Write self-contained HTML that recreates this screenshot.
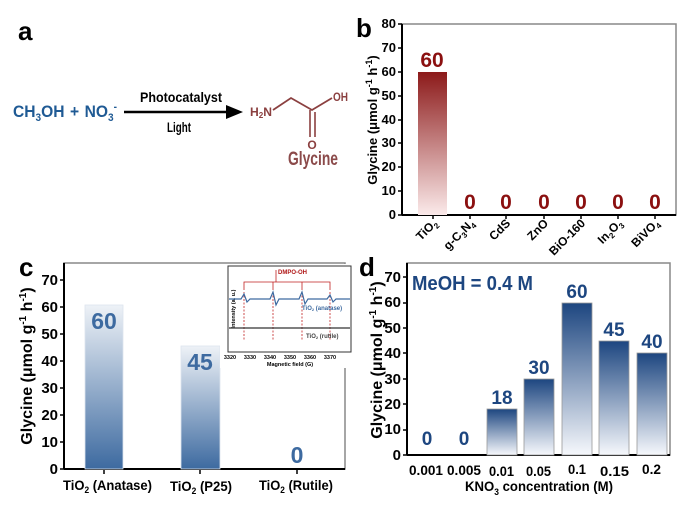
<!DOCTYPE html>
<html><head><meta charset="utf-8"><style>
body{margin:0;background:#fff}
svg{display:block;font-family:"Liberation Sans Narrow","Liberation Sans",sans-serif;font-weight:bold}
</style></head><body>
<svg width="682" height="507" viewBox="0 0 682 507" xmlns="http://www.w3.org/2000/svg">
<defs>
<linearGradient id="gr" x1="0" y1="0" x2="0" y2="1"><stop offset="0" stop-color="#8c1a1a"/><stop offset="1" stop-color="#fbeaea"/></linearGradient>
<linearGradient id="gc" x1="0" y1="0" x2="0" y2="1"><stop offset="0" stop-color="#eef2f7"/><stop offset="1" stop-color="#3d6aa0"/></linearGradient>
<linearGradient id="gd" x1="0" y1="0" x2="0" y2="1"><stop offset="0" stop-color="#1d4680"/><stop offset="1" stop-color="#f6f8fc"/></linearGradient>
</defs>

<!-- Panel a -->
<text x="18" y="40" font-size="26" font-family="Liberation Sans">a</text>
<text x="13" y="117" font-size="17" fill="#1f5a94" textLength="104" lengthAdjust="spacingAndGlyphs">CH<tspan font-size="11" dy="4">3</tspan><tspan dy="-4">OH</tspan><tspan dx="6">+</tspan><tspan dx="6">NO</tspan><tspan font-size="11" dy="4">3</tspan><tspan font-size="11" dy="-11">-</tspan></text>
<line x1="124" y1="112" x2="228" y2="112" stroke="#000" stroke-width="2.5"/>
<polygon points="226,105 243,112 226,119" fill="#000"/>
<text x="140" y="102" font-size="14" textLength="82" lengthAdjust="spacingAndGlyphs">Photocatalyst</text>
<text x="167" y="132" font-size="14" textLength="24" lengthAdjust="spacingAndGlyphs">Light</text>
<g fill="#8b4040" font-size="12">
<text x="250" y="116" textLength="22" lengthAdjust="spacingAndGlyphs">H<tspan font-size="8" dy="2">2</tspan><tspan dy="-2">N</tspan></text>
<text x="333" y="101" textLength="15" lengthAdjust="spacingAndGlyphs">OH</text>
<text x="312" y="149" text-anchor="middle">O</text>
</g>
<polyline points="273,110 291,98 312,110 332,98" fill="none" stroke="#8b4040" stroke-width="1.8"/>
<line x1="310" y1="110" x2="310" y2="137" stroke="#8b4040" stroke-width="1.6"/>
<line x1="315" y1="112" x2="315" y2="137" stroke="#8b4040" stroke-width="1.6"/>
<text x="288" y="165" font-size="19" fill="#8b4a4a" textLength="50" lengthAdjust="spacingAndGlyphs">Glycine</text>

<!-- Panel b -->
<text x="356" y="37" font-size="26" font-family="Liberation Sans">b</text>
<rect x="402" y="24" width="274" height="191" fill="none" stroke="#888" stroke-width="1.5"/>
<line x1="402" y1="24" x2="402" y2="215" stroke="#000" stroke-width="2"/>
<line x1="402" y1="215" x2="676" y2="215" stroke="#000" stroke-width="2"/>
<g font-size="13" text-anchor="end">
<text x="396" y="219">0</text><text x="396" y="195">10</text><text x="396" y="171">20</text><text x="396" y="147">30</text><text x="396" y="124">40</text><text x="396" y="100">50</text><text x="396" y="76">60</text><text x="396" y="52">70</text><text x="396" y="28">80</text>
</g>
<g stroke="#000" stroke-width="1.5">
<line x1="398" y1="215" x2="402" y2="215"/><line x1="398" y1="191" x2="402" y2="191"/><line x1="398" y1="167" x2="402" y2="167"/><line x1="398" y1="143" x2="402" y2="143"/><line x1="398" y1="120" x2="402" y2="120"/><line x1="398" y1="96" x2="402" y2="96"/><line x1="398" y1="72" x2="402" y2="72"/><line x1="398" y1="48" x2="402" y2="48"/><line x1="398" y1="24" x2="402" y2="24"/>
<line x1="433" y1="215" x2="433" y2="219"/><line x1="470" y1="215" x2="470" y2="219"/><line x1="506" y1="215" x2="506" y2="219"/><line x1="544" y1="215" x2="544" y2="219"/><line x1="581" y1="215" x2="581" y2="219"/><line x1="618" y1="215" x2="618" y2="219"/><line x1="655" y1="215" x2="655" y2="219"/>
</g>
<rect x="418" y="72" width="29" height="143" fill="url(#gr)"/>
<text x="432" y="67" font-size="21" fill="#8b1010" text-anchor="middle">60</text>
<g font-size="21" fill="#8b1010" text-anchor="middle">
<text x="470" y="209">0</text><text x="506" y="209">0</text><text x="544" y="209">0</text><text x="581" y="209">0</text><text x="618" y="209">0</text><text x="655" y="209">0</text>
</g>
<g font-size="12" text-anchor="end">
<text transform="translate(438,224) rotate(-45)">TiO<tspan font-size="8" dy="3">2</tspan></text>
<text transform="translate(475,224) rotate(-45)">g-C<tspan font-size="8" dy="3">3</tspan><tspan dy="-3">N</tspan><tspan font-size="8" dy="3">4</tspan></text>
<text transform="translate(511,224) rotate(-45)">CdS</text>
<text transform="translate(549,224) rotate(-45)">ZnO</text>
<text transform="translate(586,224) rotate(-45)">BiO-160</text>
<text transform="translate(623,224) rotate(-45)">In<tspan font-size="8" dy="3">2</tspan><tspan dy="-3">O</tspan><tspan font-size="8" dy="3">3</tspan></text>
<text transform="translate(660,224) rotate(-45)">BiVO<tspan font-size="8" dy="3">4</tspan></text>
</g>
<text transform="translate(377,120) rotate(-90)" font-size="13" text-anchor="middle">Glycine (μmol g<tspan font-size="9" dy="-5">-1</tspan><tspan dy="5"> h</tspan><tspan font-size="9" dy="-5">-1</tspan><tspan dy="5">)</tspan></text>

<!-- Panel c -->
<text x="19" y="276" font-size="26" font-family="Liberation Sans">c</text>
<rect x="64" y="263" width="281" height="206" fill="none" stroke="#888" stroke-width="1.5"/>
<line x1="64" y1="263" x2="64" y2="469" stroke="#000" stroke-width="2"/>
<line x1="64" y1="469" x2="345" y2="469" stroke="#000" stroke-width="2"/>
<g font-size="15" text-anchor="end">
<text x="58" y="474">0</text><text x="58" y="447">10</text><text x="58" y="420">20</text><text x="58" y="393">30</text><text x="58" y="366">40</text><text x="58" y="339">50</text><text x="58" y="312">60</text><text x="58" y="285">70</text>
</g>
<g stroke="#000" stroke-width="1.5">
<line x1="60" y1="469" x2="64" y2="469"/><line x1="60" y1="442" x2="64" y2="442"/><line x1="60" y1="415" x2="64" y2="415"/><line x1="60" y1="388" x2="64" y2="388"/><line x1="60" y1="361" x2="64" y2="361"/><line x1="60" y1="334" x2="64" y2="334"/><line x1="60" y1="307" x2="64" y2="307"/><line x1="60" y1="280" x2="64" y2="280"/>
<line x1="104" y1="469" x2="104" y2="474"/><line x1="200" y1="469" x2="200" y2="474"/><line x1="297" y1="469" x2="297" y2="474"/>
</g>
<rect x="85" y="305" width="38" height="164" fill="url(#gc)" stroke="#dde4ee" stroke-width="0.8"/>
<rect x="181" y="346" width="39" height="123" fill="url(#gc)" stroke="#dde4ee" stroke-width="0.8"/>
<g font-size="23" fill="#3d6aa0" text-anchor="middle">
<text x="104" y="329">60</text><text x="200" y="370">45</text><text x="297" y="463">0</text>
</g>
<g font-size="14">
<text x="63" y="490" textLength="89" lengthAdjust="spacingAndGlyphs">TiO<tspan font-size="9" dy="3">2</tspan><tspan dy="-3"> (Anatase)</tspan></text>
<text x="170" y="491" textLength="62" lengthAdjust="spacingAndGlyphs">TiO<tspan font-size="9" dy="3">2</tspan><tspan dy="-3"> (P25)</tspan></text>
<text x="259" y="490" textLength="74" lengthAdjust="spacingAndGlyphs">TiO<tspan font-size="9" dy="3">2</tspan><tspan dy="-3"> (Rutile)</tspan></text>
</g>
<text transform="translate(32,366) rotate(-90)" font-size="16" text-anchor="middle">Glycine (μmol g<tspan font-size="10" dy="-6">-1</tspan><tspan dy="6"> h</tspan><tspan font-size="10" dy="-6">-1</tspan><tspan dy="6">)</tspan></text>
<!-- inset -->
<rect x="220" y="264" width="132" height="104" fill="#fff"/>
<rect x="228" y="266" width="123" height="86" fill="none" stroke="#333" stroke-width="1"/>
<text transform="translate(235,309) rotate(-90)" font-size="5.5" text-anchor="middle">Intensity (a. u.)</text>
<g font-size="5.5" text-anchor="middle">
<text x="230" y="359">3320</text><text x="250" y="359">3330</text><text x="270" y="359">3340</text><text x="290" y="359">3350</text><text x="310" y="359">3360</text><text x="330" y="359">3370</text>
<text x="290" y="366">Magnetic field (G)</text>
</g>
<g stroke="#c02020" stroke-width="0.8" fill="none">
<polyline points="244,290 244,282 330,282 330,290"/>
<line x1="273" y1="282" x2="273" y2="290"/><line x1="302" y1="282" x2="302" y2="290"/>
<line x1="276" y1="270" x2="276" y2="282"/>
<g stroke-dasharray="2,1.5"><line x1="244" y1="292" x2="244" y2="341"/><line x1="273" y1="292" x2="273" y2="341"/><line x1="302" y1="292" x2="302" y2="341"/><line x1="330" y1="292" x2="330" y2="341"/></g>
</g>
<text x="278" y="274" font-size="6" fill="#b01818">DMPO-OH</text>
<polyline points="229,299 241,299 244,294 247,302 250,299 270,299 273,292 276,305 279,299 299,299 302,292 305,304 308,299 327,299 330,295 333,302 336,299 350,299" fill="none" stroke="#3d6aa0" stroke-width="1.2"/>
<text x="302" y="310" font-size="6" fill="#3d6aa0">TiO<tspan font-size="4" dy="1">2</tspan><tspan dy="-1"> (anatase)</tspan></text>
<line x1="229" y1="328" x2="350" y2="328" stroke="#333" stroke-width="1.3"/>
<text x="306" y="338" font-size="6" fill="#444">TiO<tspan font-size="4" dy="1">2</tspan><tspan dy="-1"> (rutile)</tspan></text>

<!-- Panel d -->
<text x="359" y="276" font-size="26" font-family="Liberation Sans">d</text>
<rect x="407" y="263" width="263" height="192" fill="none" stroke="#888" stroke-width="1.5"/>
<line x1="407" y1="263" x2="407" y2="455" stroke="#000" stroke-width="2"/>
<line x1="407" y1="455" x2="670" y2="455" stroke="#000" stroke-width="2"/>
<g font-size="15" text-anchor="end">
<text x="401" y="460">0</text><text x="401" y="434">10</text><text x="401" y="409">20</text><text x="401" y="384">30</text><text x="401" y="358">40</text><text x="401" y="333">50</text><text x="401" y="307">60</text><text x="401" y="282">70</text>
</g>
<g stroke="#000" stroke-width="1.5">
<line x1="403" y1="455" x2="407" y2="455"/><line x1="403" y1="430" x2="407" y2="430"/><line x1="403" y1="404" x2="407" y2="404"/><line x1="403" y1="379" x2="407" y2="379"/><line x1="403" y1="353" x2="407" y2="353"/><line x1="403" y1="328" x2="407" y2="328"/><line x1="403" y1="303" x2="407" y2="303"/><line x1="403" y1="277" x2="407" y2="277"/>
</g>
<text x="412" y="290" font-size="20" fill="#1d4680" textLength="121" lengthAdjust="spacingAndGlyphs">MeOH = 0.4 M</text>
<g stroke="#999" stroke-width="0.8">
<rect x="487" y="409" width="30" height="46" fill="url(#gd)"/>
<rect x="524" y="379" width="30" height="76" fill="url(#gd)"/>
<rect x="562" y="303" width="30" height="152" fill="url(#gd)"/>
<rect x="599" y="341" width="30" height="114" fill="url(#gd)"/>
<rect x="637" y="353" width="30" height="102" fill="url(#gd)"/>
</g>
<g font-size="19" fill="#1d4680" text-anchor="middle">
<text x="427" y="445">0</text><text x="464" y="445">0</text><text x="502" y="404">18</text><text x="539" y="374">30</text><text x="577" y="298">60</text><text x="614" y="336">45</text><text x="652" y="348">40</text>
</g>
<g font-size="14">
<text x="409" y="475" textLength="34" lengthAdjust="spacingAndGlyphs">0.001</text>
<text x="447" y="475" textLength="34" lengthAdjust="spacingAndGlyphs">0.005</text>
<text x="489" y="476" textLength="25" lengthAdjust="spacingAndGlyphs">0.01</text>
<text x="526" y="476" textLength="25" lengthAdjust="spacingAndGlyphs">0.05</text>
<text x="568" y="474" textLength="18" lengthAdjust="spacingAndGlyphs">0.1</text>
<text x="600" y="476" textLength="29" lengthAdjust="spacingAndGlyphs">0.15</text>
<text x="642" y="474" textLength="19" lengthAdjust="spacingAndGlyphs">0.2</text>
<text x="465" y="491" textLength="148" lengthAdjust="spacingAndGlyphs">KNO<tspan font-size="9" dy="4">3</tspan><tspan dy="-4"> concentration (M)</tspan></text>
</g>
<text transform="translate(382,360) rotate(-90)" font-size="16" text-anchor="middle">Glycine (μmol g<tspan font-size="10" dy="-6">-1</tspan><tspan dy="6"> h</tspan><tspan font-size="10" dy="-6">-1</tspan><tspan dy="6">)</tspan></text>
</svg>
</body></html>
